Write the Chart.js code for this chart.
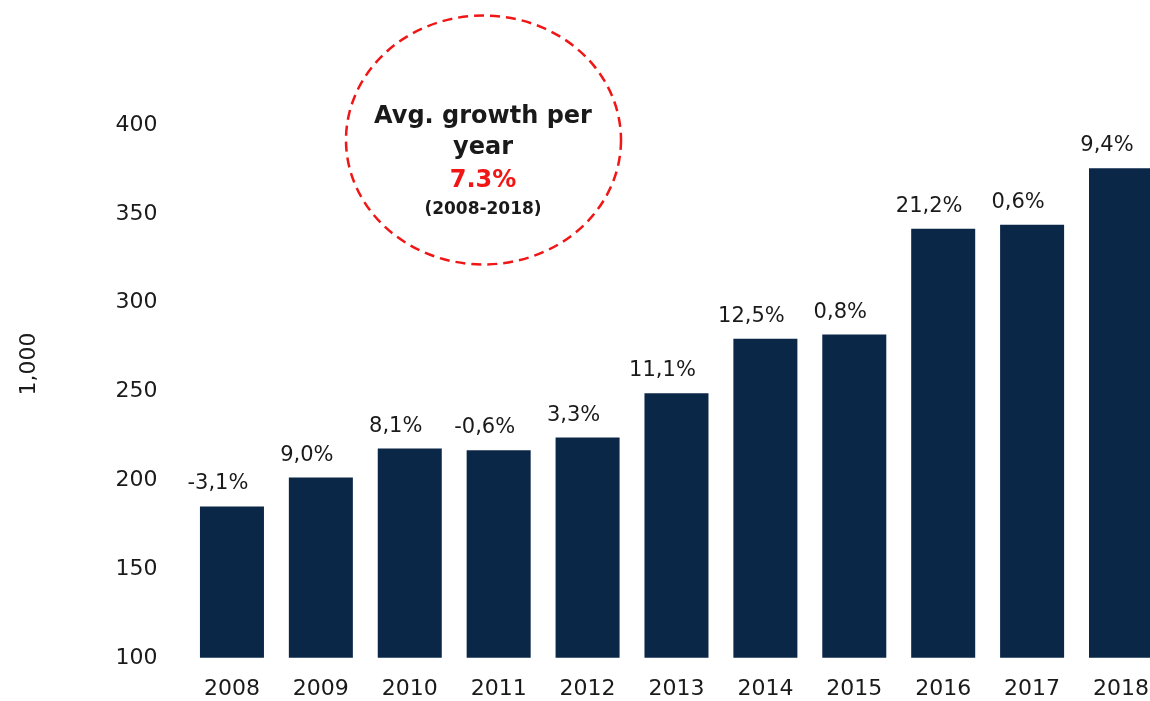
<!DOCTYPE html>
<html>
<head>
<meta charset="utf-8">
<script src="https://cdn.jsdelivr.net/npm/chart.js@4/dist/chart.umd.min.js"></script>
<style>
  html, body { margin: 0; padding: 0; background: #fff; overflow: hidden; }
  #wrap { width: 1150px; height: 701px; overflow: hidden; }
</style>
</head>
<body>
<div id="wrap"><canvas id="chart" width="1167" height="701"></canvas></div>
<script>
const years = ["2008", "2009", "2010", "2011", "2012", "2013", "2014", "2015", "2016", "2017", "2018"];
const values = [185.2, 201.5, 217.8, 216.9, 224, 248.9, 279.6, 282, 341.6, 343.8, 375.7];
const growth = ["-3,1%", "9,0%", "8,1%", "-0,6%", "3,3%", "11,1%", "12,5%", "0,8%", "21,2%", "0,6%", "9,4%"];
const yTicks = [100, 150, 200, 250, 300, 350, 400];
const yTitle = "1,000";
const bubble = ["Avg. growth per", "year", "7.3%", "(2008-2018)"];

const FONT = "'DejaVu Sans', sans-serif";
const TEXT = "#1a1a1a";
const RED = "#f01616";

// growth labels above the bars
const growthLabels = {
  id: "growthLabels",
  afterDatasetsDraw(chart) {
    const ctx = chart.ctx;
    const meta = chart.getDatasetMeta(0);
    ctx.save();
    ctx.font = "21px " + FONT;
    ctx.fillStyle = TEXT;
    ctx.textAlign = "center";
    ctx.textBaseline = "alphabetic";
    meta.data.forEach((bar, i) => {
      ctx.fillText(growth[i], bar.x - 14, bar.y - 17);
    });
    ctx.restore();
  }
};

// y axis title + dashed circle note
const extras = {
  id: "extras",
  afterDraw(chart) {
    const ctx = chart.ctx;
    ctx.save();
    ctx.translate(29, 364);
    ctx.rotate(-Math.PI / 2);
    ctx.font = "22px " + FONT;
    ctx.fillStyle = TEXT;
    ctx.textAlign = "center";
    ctx.textBaseline = "middle";
    ctx.fillText(yTitle, 0, 0);
    ctx.restore();

    ctx.save();
    ctx.beginPath();
    ctx.ellipse(483.5, 140, 137.5, 124.5, 0, 0, Math.PI * 2);
    ctx.strokeStyle = RED;
    ctx.lineWidth = 2.5;
    ctx.setLineDash([10, 6]);
    ctx.stroke();
    ctx.setLineDash([]);

    ctx.textAlign = "center";
    ctx.textBaseline = "alphabetic";
    ctx.fillStyle = TEXT;
    ctx.font = "bold 24px " + FONT;
    ctx.fillText(bubble[0], 483, 123);
    ctx.fillText(bubble[1], 483, 154);
    ctx.fillStyle = RED;
    ctx.fillText(bubble[2], 483, 187);
    ctx.fillStyle = TEXT;
    ctx.font = "bold 17px " + FONT;
    ctx.fillText(bubble[3], 483, 214);
    ctx.restore();
  }
};

new Chart(document.getElementById("chart"), {
  type: "bar",
  data: {
    labels: years,
    datasets: [{
      data: values,
      backgroundColor: "#0b2747",
      barPercentage: 0.72,
      categoryPercentage: 1
    }]
  },
  options: {
    responsive: false,
    animation: false,
    layout: { padding: { top: 125, right: 0, bottom: 0, left: 0 } },
    plugins: { legend: { display: false }, tooltip: { enabled: false } },
    scales: {
      x: {
        grid: { display: false, drawTicks: false },
        border: { display: false },
        ticks: { color: TEXT, font: { family: FONT, size: 22 }, padding: 18, maxRotation: 0 },
        afterFit(scale) { scale.height = 42; }
      },
      y: {
        min: 100,
        max: 400,
        grid: { display: false, drawTicks: false },
        border: { display: false },
        afterBuildTicks(scale) { scale.ticks = yTicks.map(v => ({ value: v })); },
        ticks: { color: TEXT, font: { family: FONT, size: 22 }, padding: 30 },
        afterFit(scale) { scale.width = 187.5; }
      }
    }
  },
  plugins: [growthLabels, extras]
});
</script>
</body>
</html>
